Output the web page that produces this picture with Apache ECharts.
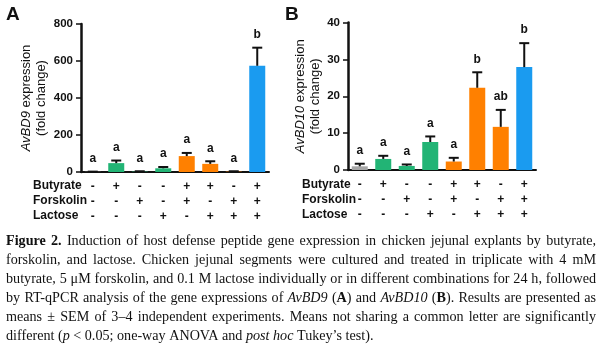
<!DOCTYPE html>
<html><head><meta charset="utf-8">
<script src="https://cdn.jsdelivr.net/npm/echarts@6/dist/echarts.min.js"></script>
<style>html,body{margin:0;padding:0;background:#fff}#c{width:600px;height:348px}</style>
</head><body><div id="c"></div>
<script>
// ---------- data ----------
const categories = ['Control','Butyrate','Forskolin','Lactose','Butyrate+Forskolin','Butyrate+Lactose','Forskolin+Lactose','All'];
const treatmentRows = ['Butyrate','Forskolin','Lactose'];
const butyrateRow  = ['-','+','-','-','+','+','-','+'];
const forskolinRow = ['-','-','+','-','+','-','+','+'];
const lactoseRow   = ['-','-','-','+','-','+','+','+'];
const barGroup = ['control','single','single','single','double','double','double','triple'];

const avbd9Mean    = [1, 48, 2, 20, 86, 44, 2, 574];
const avbd9Sem     = [1, 14, 2, 7, 17, 14, 2, 98];
const avbd9Letters = ['a','a','a','a','a','a','a','b'];
const avbd9Axis    = {min: 0, max: 800, interval: 200};

const avbd10Mean    = [1.0, 3.0, 1.1, 7.6, 2.3, 22.3, 11.7, 27.9];
const avbd10Sem     = [0.7, 0.85, 0.4, 1.5, 1.0, 4.2, 4.6, 6.5];
const avbd10Letters = ['a','a','a','a','a','b','ab','b'];
const avbd10Axis    = {min: 0, max: 40, interval: 10};

const captionLines = [
  '{b|Figure} {b|2.} Induction of host defense peptide gene expression in chicken jejunal explants by butyrate,',
  'forskolin, and lactose. Chicken jejunal segments were cultured and treated in triplicate with 4 mM',
  'butyrate, 5 \u03bcM forskolin, and 0.1 M lactose individually or in different combinations for 24 h, followed',
  'by RT-qPCR analysis of the gene expressions of {i|AvBD9} ({b|A}) and {i|AvBD10} ({b|B}). Results are presented as',
  'means \u00b1 SEM of 3\u20134 independent experiments. Means not sharing a common letter are significantly',
  'different ({i|p} < 0.05; one-way ANOVA and {i|post} {i|hoc} Tukey\u2019s test).'
];

// ---------- styling ----------
const colors = {control:'#a6a6a6', single:'#22b475', double:'#ff8000', triple:'#1a9bf0'};
const SANS = 'Arial, "Liberation Sans", sans-serif';
const SERIF = '"Liberation Serif", "Times New Roman", serif';
const INK = '#111';

const chart = echarts.init(document.getElementById('c'), null, {renderer:'canvas', width:600, height:348});

function xAxisFor(gi){
  return {
    type:'category', gridIndex:gi, data:categories,
    axisLine:{lineStyle:{color:INK, width:2}},
    axisTick:{alignWithLabel:true, length:5, lineStyle:{color:INK, width:1.5}},
    axisLabel:{
      interval:0, margin:7, color:INK, fontFamily:SANS, fontWeight:'bold', fontSize:12, lineHeight:15,
      formatter:(v, i)=> butyrateRow[i]+'\n'+forskolinRow[i]+'\n'+lactoseRow[i]
    }
  };
}
function yAxisFor(gi, ax, gene, gap){
  return {
    type:'value', gridIndex:gi, min:ax.min, max:ax.max, interval:ax.interval,
    splitLine:{show:false},
    axisLine:{show:true, lineStyle:{color:INK, width:2.5}},
    axisTick:{show:true, length:5, lineStyle:{color:INK, width:1.5}},
    axisLabel:{color:INK, fontFamily:SANS, fontWeight:'bold', fontSize:11.5, margin:8},
    name:'{i|'+gene+'} expression\n(fold change)',
    nameLocation:'middle', nameRotate:90, nameGap:gap,
    nameTextStyle:{color:INK, fontFamily:SANS, fontSize:13, lineHeight:15,
      rich:{i:{fontStyle:'italic', fontFamily:SANS, fontSize:13, color:INK}}}
  };
}
function barSeries(gi, means){
  return {
    type:'bar', xAxisIndex:gi, yAxisIndex:gi, barWidth:16, silent:true,
    data: means.map((v,i)=>({value:v, itemStyle:{color:colors[barGroup[i]]}}))
  };
}
function errSeries(gi, means, sems, letters){
  return {
    type:'custom', xAxisIndex:gi, yAxisIndex:gi, silent:true, z:5,
    data: means.map((v,i)=>[i, v, sems[i]]),
    renderItem:(params, api)=>{
      const i = api.value(0), m = api.value(1), e = api.value(2);
      const p0 = api.coord([i, m]);
      const p1 = api.coord([i, m+e]);
      return {type:'group', children:[
        {type:'line', shape:{x1:p0[0], y1:p0[1], x2:p1[0], y2:p1[1]}, style:{stroke:INK, lineWidth:2}},
        {type:'line', shape:{x1:p1[0]-5, y1:p1[1], x2:p1[0]+5, y2:p1[1]}, style:{stroke:INK, lineWidth:2}},
        {type:'text', style:{text:letters[params.dataIndex], x:p1[0], y:p1[1]-7, align:'center',
          verticalAlign:'bottom', font:'bold 12px '+SANS, fill:INK}}
      ]};
    }
  };
}

// ---------- caption layout (justified) ----------
const mctx = document.createElement('canvas').getContext('2d');
let CAP = 13;
function capFont(st){ return (st==='i'?'italic ':'')+(st==='b'?'bold ':'')+CAP+'px '+SERIF; }
function parseWord(w){
  const segs=[]; const re=/\{(\w)\|([^}]*)\}/g; let last=0, m;
  while((m=re.exec(w))){ if(m.index>last) segs.push(['n', w.slice(last,m.index)]); segs.push([m[1], m[2]]); last=re.lastIndex; }
  if(last<w.length) segs.push(['n', w.slice(last)]);
  return segs;
}
function wordWidth(w){ return parseWord(w).reduce((s,[st,t])=>{ mctx.font=capFont(st); return s+mctx.measureText(t).width; },0); }
function lineNatural(line){
  const words=line.split(' '); mctx.font=capFont('n');
  return words.map(wordWidth).reduce((a,b)=>a+b,0) + (words.length-1)*mctx.measureText(' ').width;
}
const capLeft = 6, capRight = 596, capTop = 241, capStep = 19.1;
// fit the caption font so the longest full line just fills the text block
const maxNat = Math.max(...captionLines.slice(0,-1).map(lineNatural));
CAP = Math.min(15, 13 * (capRight-capLeft-4) / maxNat);
const captionGraphics = [];
captionLines.forEach((line, li)=>{
  const words = line.split(' ');
  const widths = words.map(wordWidth);
  const total = widths.reduce((a,b)=>a+b,0);
  mctx.font = capFont('n');
  const spaceW = mctx.measureText(' ').width;
  const last = li === captionLines.length-1;
  const gap = last ? spaceW : (capRight-capLeft-total)/(words.length-1);
  let x = capLeft;
  words.forEach((w, wi)=>{
    captionGraphics.push({type:'text', x:x, y:capTop+li*capStep, silent:true, style:{
      text:w, font:capFont('n'), fill:INK, verticalAlign:'middle', align:'left',
      rich:{
        b:{fontWeight:'bold', fontSize:CAP, fontFamily:SERIF, fill:INK, color:INK},
        i:{fontStyle:'italic', fontSize:CAP, fontFamily:SERIF, fill:INK, color:INK}
      }
    }});
    x += widths[wi] + gap;
  });
});

// ---------- row labels & panel letters ----------
const sideGraphics = [];
[['A', 6, 33, 186], ['B', 285, 302, 185]].forEach(([letter, lx, rx, ry])=>{
  sideGraphics.push({type:'text', x:lx, y:15, silent:true, style:{text:letter, font:'bold 19px '+SANS, fill:INK, verticalAlign:'middle'}});
  treatmentRows.forEach((r, k)=>{
    sideGraphics.push({type:'text', x:rx, y:ry+k*15, silent:true, style:{text:r, font:'bold 12px '+SANS, fill:INK, verticalAlign:'middle'}});
  });
});

chart.setOption({
  animation:false,
  backgroundColor:'#fff',
  grid:[
    {left:81, top:24, width:188, height:148},
    {left:348, top:22.5, width:188, height:147.5}
  ],
  xAxis:[xAxisFor(0), xAxisFor(1)],
  yAxis:[yAxisFor(0, avbd9Axis, 'AvBD9', 32), yAxisFor(1, avbd10Axis, 'AvBD10', 24)],
  series:[
    barSeries(0, avbd9Mean), errSeries(0, avbd9Mean, avbd9Sem, avbd9Letters),
    barSeries(1, avbd10Mean), errSeries(1, avbd10Mean, avbd10Sem, avbd10Letters)
  ],
  graphic: sideGraphics.concat(captionGraphics)
});
</script></body></html>
